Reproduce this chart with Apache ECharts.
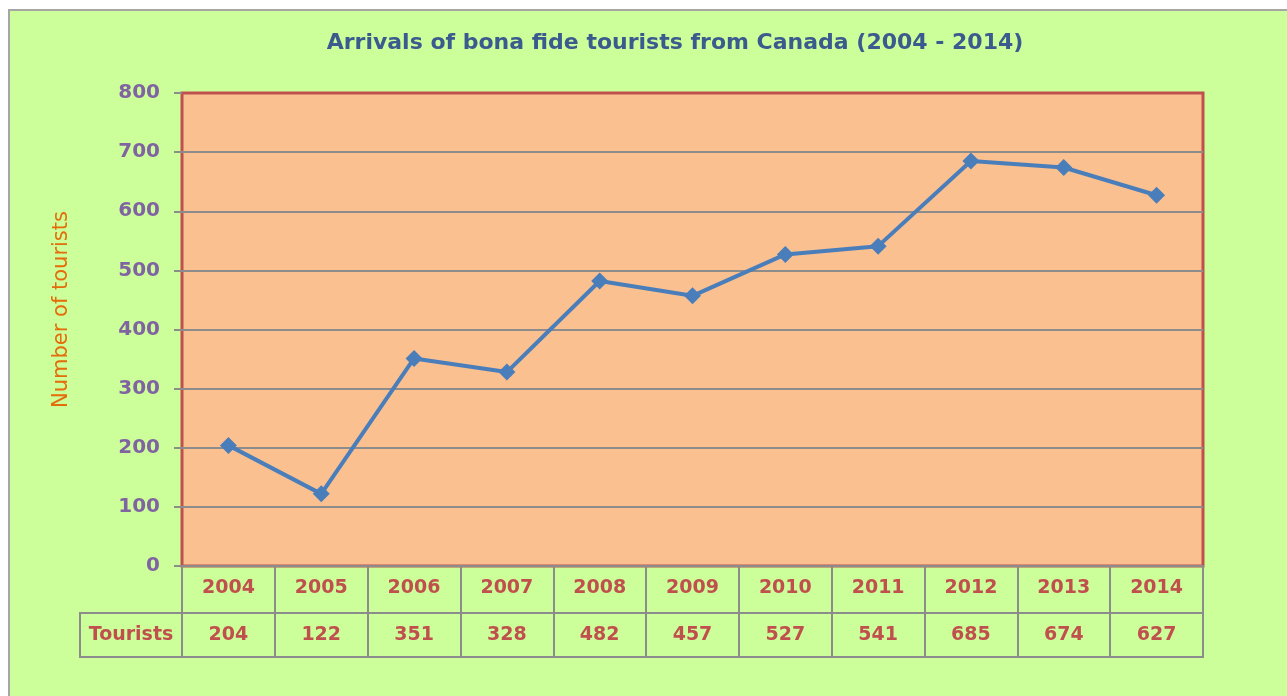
<!DOCTYPE html>
<html>
<head>
<meta charset="utf-8">
<title>Arrivals of bona fide tourists from Canada</title>
<script src="https://cdn.jsdelivr.net/npm/echarts@6/dist/echarts.min.js"></script>
<style>
  html, body { margin: 0; padding: 0; background: #ffffff; }
  .frame {
    position: absolute; left: 8px; top: 9px; width: 1290px; height: 700px;
    border: 2px solid #a6a6a6; background: #ccff99;
  }
  #chart { position: absolute; left: 0; top: 0; width: 1287px; height: 696px; }
</style>
</head>
<body>
<div class="frame"></div>
<div id="chart"></div>
<script>
const years = ['2004', '2005', '2006', '2007', '2008', '2009', '2010', '2011', '2012', '2013', '2014']
const tourists = [204, 122, 351, 328, 482, 457, 527, 541, 685, 674, 627]
const yTicks = { min: 0, max: 800, interval: 100 }

const font = 'DejaVu Sans'
const red = '#c0504d'
const gray = '#8c8c8c'

// gray gridlines, but keep the top edge (800) red like the plot border
const splitColors = [gray, gray, gray, gray, gray, gray, gray, gray, red]

const chart = echarts.init(document.getElementById('chart'))

const option = {
  backgroundColor: 'transparent',
  animation: false,
  title: {
    text: 'Arrivals of bona fide tourists from Canada (2004 - 2014)',
    left: 670,
    top: 27,
    textAlign: 'center',
    textStyle: { color: '#3b5b8f', fontFamily: font, fontWeight: 'bold', fontSize: 22 }
  },
  grid: [
    {
      left: 182, right: 84, top: 93, bottom: 130,
      show: true, backgroundColor: '#fac090', borderColor: red, borderWidth: 3
    },
    {
      left: 182, right: 84, top: 613, bottom: 39,
      show: true, backgroundColor: 'transparent', borderColor: gray, borderWidth: 2
    }
  ],
  xAxis: [
    {
      type: 'category',
      gridIndex: 0,
      data: years,
      boundaryGap: true,
      axisLine: { show: true, lineStyle: { color: gray, width: 2 } },
      axisTick: { show: true, interval: 0, length: 46, lineStyle: { color: gray, width: 2 } },
      axisLabel: { interval: 0, margin: 13, color: red, fontFamily: font, fontWeight: 'bold', fontSize: 19 },
      splitLine: { show: false }
    },
    {
      type: 'category',
      gridIndex: 1,
      data: years,
      boundaryGap: true,
      axisLine: { show: false },
      axisTick: { show: true, inside: true, interval: 0, length: 44, lineStyle: { color: gray, width: 2 } },
      axisLabel: {
        inside: true, interval: 0, margin: 12,
        color: red, fontFamily: font, fontWeight: 'bold', fontSize: 19,
        formatter: (v, i) => String(tourists[i])
      },
      splitLine: { show: false }
    }
  ],
  yAxis: [
    {
      type: 'value',
      gridIndex: 0,
      min: yTicks.min,
      max: yTicks.max,
      interval: yTicks.interval,
      name: 'Number of tourists',
      nameLocation: 'middle',
      nameGap: 110,
      nameTextStyle: { color: '#e46c0a', fontFamily: font, fontSize: 21, padding: [0, 0, 0, 40] },
      axisLine: { show: false },
      axisTick: { show: true, length: 8, lineStyle: { color: gray, width: 2 } },
      axisLabel: { margin: 22, color: '#8064a2', fontFamily: font, fontWeight: 'bold', fontSize: 20 },
      splitLine: { show: true, lineStyle: { color: splitColors, width: 2 } }
    },
    {
      type: 'value',
      gridIndex: 1,
      show: false
    }
  ],
  graphic: [
    {
      type: 'rect',
      shape: { x: 80, y: 613, width: 102, height: 44 },
      style: { fill: 'transparent', stroke: gray, lineWidth: 2 },
      textContent: {
        style: { text: 'Tourists', fill: red, font: 'bold 19px "DejaVu Sans"' }
      },
      textConfig: { position: 'inside' }
    }
  ],
  series: [
    {
      name: 'Tourists',
      type: 'line',
      xAxisIndex: 0,
      yAxisIndex: 0,
      data: tourists,
      symbol: 'diamond',
      symbolSize: 17,
      itemStyle: { color: '#4a7ebb' },
      lineStyle: { color: '#4a7ebb', width: 4 }
    }
  ]
}

chart.setOption(option)
</script>
</body>
</html>
